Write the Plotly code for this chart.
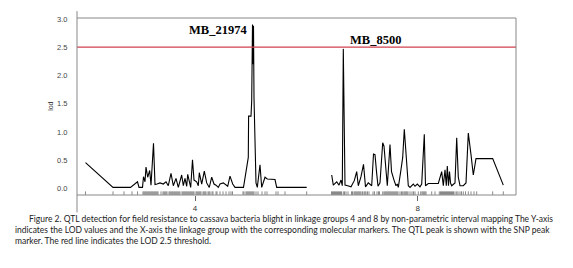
import plotly.graph_objects as go

# ---- data (positions along the map, LOD values) ----
g4_pos = [85.5, 113, 130.5, 137.5, 139, 142.5, 143.5, 145, 146, 147.7, 149.7, 151, 153.5, 155, 157, 160,
          163.3, 166, 168.3, 171, 173.3, 176, 178.3, 181.7, 183.3, 185, 186.7, 187.7, 190.7, 192.5, 194,
          196.7, 198.3, 199.3, 201.7, 204.3, 206.7, 209.3, 211.7, 214, 216, 218.3, 220, 223.3, 227.7, 230,
          232.7, 235, 243.5, 246.7, 248.3, 248.6, 251, 251.7, 252.5, 253, 253.5, 254, 255, 256, 257.3, 260,
          261.7, 263.3, 265, 267.3, 275, 276.7, 306.7]
g4_lod = [0.46, 0.02, 0.02, 0.12, 0.02, 0.02, 0.21, 0.12, 0.38, 0.20, 0.32, 0.06, 0.80, 0.07, 0.08, 0.10,
          0.08, 0.12, 0.05, 0.27, 0.05, 0.18, 0.02, 0.24, 0.05, 0.18, 0.04, 0.25, 0.02, 0.51, 0.15,
          0.12, 0.05, 0.28, 0.08, 0.31, 0.10, 0.02, 0.20, 0.08, 0.06, 0.02, 0.08, 0.10, 0.04, 0.22,
          0.08, 0.02, 0.02, 0.38, 0.55, 1.28, 1.28, 1.55, 2.90, 2.20, 2.88, 1.60, 0.55, 0.10, 0.02, 0.42,
          0.02, 0.10, 0.20, 0.17, 0.16, 0.02, 0.02]

g8_pos = [331.7, 333.3, 336.7, 339, 341, 342.3, 343.3, 345, 347.7, 351, 354.3, 356.7, 358.3, 361, 363.5,
          365.5, 368.3, 371.7, 373.5, 375, 376.5, 378, 380, 382.7, 384, 386, 387.3, 390, 391.5, 394, 396,
          397.3, 398.3, 400.7, 402.7, 404.3, 405.5, 406.7, 408.3, 410, 413.3, 415, 417.3, 420, 421.7, 424.3,
          425.5, 428.3, 438.3, 441.7, 443.3, 445, 446.3, 447.3, 448.5, 449.5, 450.5, 451.7, 455, 456.7,
          458.3, 460, 463.3, 466, 468.3, 471, 473.3, 476, 492.7, 503.3]
g8_lod = [0.24, 0.06, 0.12, 0.06, 0.15, 0.05, 2.47, 0.06, 0.05, 0.03, 0.14, 0.30, 0.05, 0.21, 0.43,
          0.03, 0.10, 0.05, 0.61, 0.60, 0.30, 0.04, 0.10, 0.81, 0.75, 0.25, 0.05, 0.78, 0.30, 0.15, 0.05,
          0.08, 0.02, 0.30, 0.55, 1.05, 0.70, 0.50, 0.05, 0.02, 0.08, 0.04, 0.08, 0.03, 0.08, 0.96,
          0.05, 0.09, 0.09, 0.30, 0.05, 0.33, 0.05, 0.40, 0.05, 0.30, 0.10, 0.05, 0.10, 0.90,
          0.20, 0.05, 0.05, 0.10, 0.98, 0.60, 0.24, 0.53, 0.53, 0.06]

markers = [85.5, 113, 124, 132, 137.5,
           143, 144, 145, 146, 147, 148, 149, 150, 151, 152, 153, 154, 155, 156, 157, 158,
           161, 163, 164, 165, 166, 167, 169, 170, 171, 172, 173, 174, 175, 176, 177, 178, 179, 180,
           182, 183, 184, 185, 186, 187, 188, 189, 190, 191, 192, 193, 194, 196, 197, 198, 199, 200, 201,
           203, 204, 205, 206, 208, 209, 210, 212, 213, 216, 217, 220, 223, 226, 229, 231, 232.5,
           243, 244, 246, 247, 248, 249, 250, 251, 252, 253, 254, 256, 258, 262, 265, 267, 276, 278, 285, 306.7,
           331.5, 332.5, 333.5, 334.5, 335.5, 336.5, 337.5, 338.5, 339.5, 340.5, 341.5, 343.3, 344.5, 346, 348,
           351.5, 352.5, 354, 355, 356, 357, 358, 359, 360, 361, 362.5, 364, 365, 366, 367.5, 369,
           373, 374.5, 377, 378.5, 379.5,
           382.7, 384, 385, 386, 387, 388, 389, 390, 391, 392, 393, 394, 395, 396, 397, 398,
           400, 401.5, 402.7, 404, 405, 406, 407, 408, 410, 412, 413.5, 415, 418.3,
           420.7, 422, 423, 424, 425, 426, 431.7, 435,
           439.3, 440.5, 441.5, 442.5, 443.5, 444.5, 445.5, 446.5, 447.5, 448.5, 449.5, 450.5, 451.5,
           452.5, 453.5, 455, 456.7, 458, 460, 461.5, 463.3, 465.5, 468.3, 471, 474, 476.7, 492.7, 503.3]

group_tick_pos = [195, 417.7]
group_tick_text = ["4", "8"]
y_ticks = [0.0, 0.5, 1.0, 1.5, 2.0, 2.5, 3.0]
threshold = 2.5
peak_labels = ["MB_21974", "MB_8500"]
peak_pos = [218, 375]
peak_y = [2.80, 2.62]

caption = [
    "Figure 2. QTL detection for field resistance to cassava bacteria blight in linkage groups 4 and 8 by non-parametric interval mapping The Y-axis",
    "indicates the LOD values and the X-axis the linkage group with the corresponding molecular markers. The QTL peak is shown with the SNP peak",
    "marker. The red line indicates the LOD 2.5 threshold.",
]

# ---- figure ----
OFF = 8  # default page body margin
W, H = 573 - OFF, 268 - OFF
L, R, T, B = 77, 516, 15, 195.3
YMIN, YMAX = -0.114, 3.016

fig = go.Figure()

rx, ry = [], []
for m in markers:
    rx += [m, m, None]
    ry += [-0.112, -0.05, None]
fig.add_trace(go.Scatter(x=rx, y=ry, mode="lines", line=dict(color="#555", width=0.7),
                         hoverinfo="skip", showlegend=False))
fig.add_trace(go.Scatter(x=g4_pos, y=g4_lod, mode="lines", line=dict(color="black", width=1.1),
                         showlegend=False))
fig.add_trace(go.Scatter(x=g8_pos, y=g8_lod, mode="lines", line=dict(color="black", width=1.1),
                         showlegend=False))

fig.add_shape(type="line", xref="paper", yref="y", x0=0, x1=1, y0=threshold, y1=threshold,
              line=dict(color="#d0404f", width=1.2))

def py(p):
    return (B - p) / (B - T)

def px(p):
    return (p - L) / (R - L)

# frame
fig.add_shape(type="line", xref="paper", yref="paper", x0=0, x1=1, y0=1, y1=1, line=dict(color="#888", width=1))
fig.add_shape(type="line", xref="paper", yref="paper", x0=1, x1=1, y0=0, y1=1, line=dict(color="#888", width=1))
fig.add_shape(type="line", xref="paper", yref="paper", x0=0, x1=1, y0=0, y1=0, line=dict(color="#888", width=1))
fig.add_shape(type="line", xref="paper", yref="paper", x0=0, x1=0, y0=py(213), y1=py(8),
              line=dict(color="#888", width=1))

for lab, xp, yp in zip(peak_labels, peak_pos, peak_y):
    fig.add_annotation(x=xp, y=yp, xref="x", yref="y", text="<b>%s</b>" % lab, showarrow=False,
                       font=dict(family="Liberation Serif", size=12.5, color="black"))

fig.add_annotation(x=px(45), y=py(105), xref="paper", yref="paper", text="lod", showarrow=False,
                   textangle=-90, font=dict(family="Liberation Sans", size=7, color="#333"))

for i, (line, xs) in enumerate(zip(caption, [27, 13, 13])):
    fig.add_annotation(x=px(xs), y=py(220 + 11 * i), xref="paper", yref="paper", text=line,
                       showarrow=False, xanchor="left", yanchor="middle",
                       font=dict(family="Lato", size=8.5, color="#222"))

fig.update_layout(
    width=W, height=H,
    margin=dict(l=L - OFF, r=W - (R - OFF), t=T - OFF, b=H - (B - OFF), pad=0),
    paper_bgcolor="white", plot_bgcolor="white",
    xaxis=dict(range=[L, R], showgrid=False, zeroline=False, showline=False,
               tickmode="array", tickvals=group_tick_pos, ticktext=group_tick_text,
               ticks="outside", ticklen=5, tickcolor="#666", tickwidth=1,
               tickfont=dict(family="Liberation Sans", size=8, color="#333")),
    yaxis=dict(range=[YMIN, YMAX], showgrid=False, zeroline=False, showline=False,
               tickmode="array", tickvals=y_ticks, ticktext=["%.1f" % v for v in y_ticks],
               ticks="outside", ticklen=7, tickcolor="rgba(0,0,0,0)",
               tickfont=dict(family="Liberation Sans", size=7.5, color="#444")),
)

fig.write_html("out.html")
